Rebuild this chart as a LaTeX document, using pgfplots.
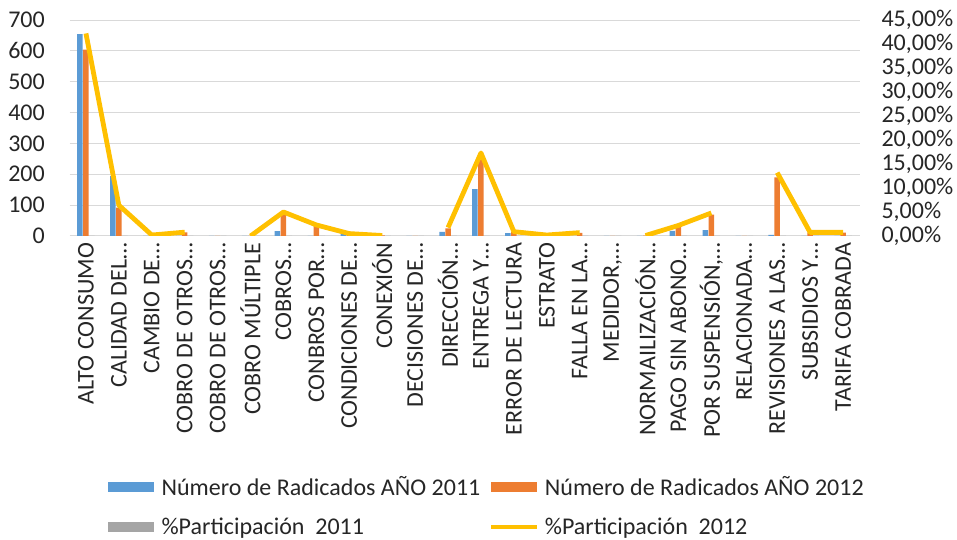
\documentclass[border=0pt]{standalone}
\usepackage{fontspec}
\setmainfont{Carlito}
\usepackage{pgfplots}
\usepackage{pgfplotstable}
\pgfplotsset{compat=1.18}

\definecolor{c11}{HTML}{5B9BD5}
\definecolor{c12}{HTML}{ED7D31}
\definecolor{cgr}{HTML}{A5A5A5}
\definecolor{cyl}{HTML}{FFC000}
\definecolor{gridc}{HTML}{D9D9D9}
\definecolor{textc}{HTML}{262626}

% i = category, b11/b12 = radicados, p11/p12 = participacion (%)
\pgfplotstableread{
i  b11 b12 p11   p12
0  654 604 0.603 42.2
1  194 92  0.179 6.4
2  0   3   0     0.2
3  0   12  0     0.8
4  0   0   0     nan
5  0   0   0     0.0
6  16  72  0.015 5.0
7  0   33  0     2.3
8  6   7   0.006 0.5
9  0   2   0     0.1
10 0   0   0     nan
11 13  25  0.012 1.75
12 152 248 0.140 17.3
13 9   13  0.008 0.9
14 0   3   0     0.2
15 0   10  0     0.7
16 0   0   0     nan
17 0   1   0     0.1
18 17  31  0.016 2.2
19 19  69  0.018 4.8
20 0   0   0     nan
21 4   190 0.004 13.2
22 0   11  0     0.75
23 0   11  0     0.75
}\data

\begin{document}
\begin{tikzpicture}[font=\fontsize{18bp}{21bp}\selectfont, text=textc]
\path[use as bounding box] (0,0) rectangle (717.75bp,405bp);
\begin{axis}[
    at={(52.125bp,228bp)}, anchor=south west,
    scale only axis, width=592.5bp, height=162bp,
    ybar=0.4bp, bar width=4.1bp,
    xmin=-0.5, xmax=23.5, ymin=0, ymax=700,
    xtick={0,...,23},
    xticklabels={ALTO CONSUMO, CALIDAD DEL…, CAMBIO DE…, COBRO DE OTROS…,
        COBRO DE OTROS…, COBRO MÚLTIPLE, COBROS…, CONBROS POR…,
        CONDICIONES DE…, CONEXIÓN, DECISIONES DE…, DIRECCIÓN…,
        ENTREGA Y…, ERROR DE LECTURA, ESTRATO, FALLA EN LA…,
        {MEDIDOR,…}, NORMAILIZACIÓN…, PAGO SIN ABONO…, {POR SUSPENSIÓN,…},
        RELACIONADA…, REVISIONES A LAS…, SUBSIDIOS Y…, TARIFA COBRADA},
    ytick={0,100,...,700},
    ymajorgrids, grid style={draw=gridc, line width=0.75bp},
    axis line style={draw=none}, major tick length=0pt,
    xticklabel style={rotate=90, anchor=east, inner sep=5bp},
    yticklabel style={xshift=-15bp},
    /pgf/number format/assume math mode=true,
    legend columns=2, legend cell align=left,
    legend style={at={(0.0487,-1.10)}, anchor=north west, draw=none, fill=none,
        inner sep=0pt, row sep=11bp,
        /tikz/every even column/.append style={column sep=5bp}},
]
\addplot[fill=c11, draw=none,
    legend image code/.code={\fill[c11] (0bp,-4bp) rectangle (34.5bp,4bp); \path (38bp,0bp);}]
    table[x=i, y=b11] {\data};
\addplot[fill=c12, draw=none,
    legend image code/.code={\fill[c12] (0bp,-4bp) rectangle (34.5bp,4bp); \path (38bp,0bp);}]
    table[x=i, y=b12] {\data};
\addplot[fill=cgr, draw=none,
    legend image code/.code={\fill[cgr] (0bp,-4bp) rectangle (34.5bp,4bp); \path (38bp,0bp);}]
    table[x=i, y=p11] {\data};
\addlegendimage{legend image code/.code={\draw[cyl, line width=2.5bp] (0bp,0bp) -- (34.5bp,0bp); \path (38bp,0bp);}}
\legend{Número de Radicados AÑO 2011, Número de Radicados AÑO 2012,
    \%Participación\ \ 2011, \%Participación\ \ 2012}
\end{axis}

\begin{axis}[
    at={(52.125bp,228bp)}, anchor=south west,
    scale only axis, width=592.5bp, height=162bp,
    xmin=-0.5, xmax=23.5, ymin=0, ymax=45,
    hide x axis, axis y line*=right,
    axis line style={draw=none}, major tick length=0pt,
    ytick={0,5,...,45},
    yticklabels={{0,00\%},{5,00\%},{10,00\%},{15,00\%},{20,00\%},
        {25,00\%},{30,00\%},{35,00\%},{40,00\%},{45,00\%}},
    yticklabel style={anchor=west, xshift=13bp},
]
\addplot[cyl, line width=3.6bp, line join=round, unbounded coords=jump]
    table[x=i, y=p12] {\data};
\end{axis}
\end{tikzpicture}
\end{document}
